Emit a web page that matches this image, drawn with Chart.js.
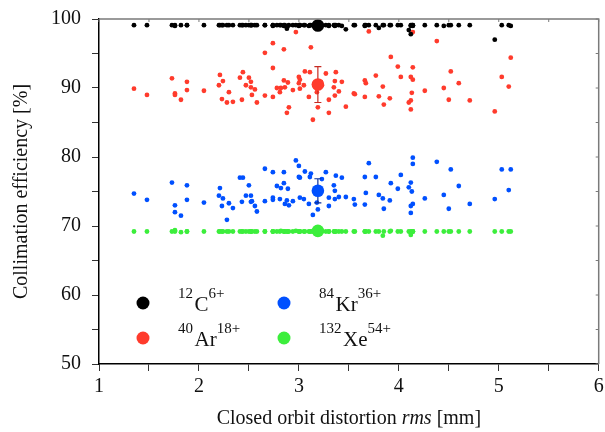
<!DOCTYPE html>
<html>
<head>
<meta charset="utf-8">
<script src="https://cdn.jsdelivr.net/npm/chart.js@4/dist/chart.umd.min.js"></script>
<style>
  html, body { margin: 0; padding: 0; background: #fff; }
</style>
</head>
<body>
<canvas id="collimation-chart" width="605" height="432"></canvas>
<script>
// closed orbit distortion rms of each machine seed [mm], same seeds for every ion
const codRms = [
  1.35, 1.48, 1.73, 1.76, 1.76, 1.82, 1.88, 1.88, 2.05, 2.20,
  2.21, 2.23, 2.24, 2.28, 2.30, 2.34, 2.41, 2.43, 2.44, 2.47,
  2.50, 2.52, 2.52, 2.53, 2.56, 2.58, 2.66, 2.66, 2.74, 2.74,
  2.74, 2.78, 2.81, 2.82, 2.85, 2.85, 2.86, 2.88, 2.89, 2.90,
  2.94, 2.97, 3.00, 3.00, 3.01, 3.01, 3.05, 3.06, 3.10, 3.11,
  3.12, 3.14, 3.18, 3.19, 3.22, 3.23, 3.27, 3.30, 3.30, 3.35,
  3.36, 3.36, 3.37, 3.40, 3.43, 3.47, 3.55, 3.56, 3.66, 3.67,
  3.66, 3.70, 3.77, 3.80, 3.84, 3.85, 3.91, 3.92, 3.99, 4.02,
  4.10, 4.12, 4.12, 4.12, 4.13, 4.14, 4.14, 4.14, 4.26, 4.38,
  4.45, 4.50, 4.52, 4.60, 4.71, 4.96, 5.03, 5.10, 5.12
]

// collimation efficiency per seed [%]
const carbonEff = [
  99.1, 99.1, 99.1, 99.1, 99.0, 99.1, 99.1, 99.1, 99.1, 99.1,
  99.1, 99.1, 99.1, 99.1, 99.1, 99.1, 99.1, 99.1, 99.1, 99.1,
  99.1, 99.1, 99.1, 99.1, 99.1, 99.1, 99.1, 99.1, 99.1, 99.1,
  99.0, 99.1, 99.1, 99.1, 99.0, 99.1, 99.1, 98.6, 99.0, 99.1,
  99.1, 99.1, 99.1, 99.0, 99.1, 99.1, 99.1, 99.1, 99.0, 99.1,
  99.1, 99.1, 99.1, 99.0, 99.1, 99.1, 99.1, 99.0, 99.1, 99.1,
  99.0, 99.1, 99.1, 99.1, 99.0, 98.5, 99.1, 99.1, 99.1, 99.1,
  99.0, 99.1, 99.1, 98.7, 99.1, 99.1, 99.1, 99.1, 99.1, 99.1,
  98.4, 97.8, 99.0, 99.1, 99.1, 99.1, 99.0, 99.1, 99.1, 99.1,
  99.0, 99.1, 99.1, 99.1, 99.1, 97.0, 99.1, 99.1, 99.0
]
const argonEff = [
  89.9, 89.0, 91.4, 89.2, 89.0, 88.3, 90.9, 89.7, 89.6, 90.4,
  91.9, 88.4, 91.0, 87.9, 89.4, 88.0, 91.5, 88.3, 92.3, 90.4,
  91.5, 90.9, 90.1, 89.0, 89.8, 87.9, 95.1, 88.9, 96.5, 92.9,
  88.7, 90.0, 89.4, 90.0, 95.6, 91.1, 90.1, 86.4, 90.8, 87.2,
  89.7, 98.1, 91.6, 90.7, 91.2, 89.9, 90.4, 92.4, 88.7, 92.3,
  95.9, 85.4, 89.4, 87.2, 90.9, 90.4, 92.1, 88.3, 86.4, 90.1,
  91.0, 88.9, 92.3, 89.5, 90.9, 87.3, 89.2, 89.1, 91.1, 90.7,
  88.7, 98.2, 91.8, 88.8, 90.2, 87.6, 88.5, 94.5, 93.1, 91.6,
  87.9, 88.2, 86.9, 91.6, 89.3, 91.2, 93.0, 98.1, 89.6, 96.8,
  90.0, 88.3, 92.4, 90.7, 88.2, 86.6, 91.6, 90.2, 94.4
]
const kryptonEff = [
  74.7, 73.8, 76.3, 73.0, 72.0, 71.5, 75.9, 73.8, 73.4, 74.4,
  75.5, 72.9, 74.0, 70.9, 73.3, 72.6, 77.0, 73.5, 77.0, 74.4,
  75.9, 74.4, 73.5, 73.6, 72.9, 72.1, 78.3, 73.6, 77.8, 74.1,
  73.8, 75.8, 73.9, 75.5, 77.8, 76.2, 73.2, 73.7, 75.4, 73.0,
  73.6, 79.5, 77.1, 78.7, 74.1, 77.0, 73.9, 77.9, 73.2, 77.1,
  77.6, 71.6, 73.4, 72.4, 75.0, 76.8, 77.8, 74.1, 72.9, 75.9,
  75.1, 73.9, 77.3, 74.2, 77.0, 74.2, 73.9, 73.1, 77.1, 74.8,
  73.1, 79.1, 77.1, 74.5, 74.0, 72.5, 73.7, 76.2, 75.4, 77.4,
  75.6, 76.3, 72.9, 71.9, 75.0, 73.2, 79.9, 79.0, 74.0, 79.3,
  74.5, 72.5, 78.2, 75.8, 73.2, 73.9, 78.2, 75.2, 78.2
]
const xenonEff = [
  69.2, 69.2, 69.2, 69.4, 69.2, 69.1, 69.2, 69.2, 69.2, 69.2,
  69.2, 69.2, 69.2, 69.2, 69.2, 69.2, 69.2, 69.2, 69.2, 69.2,
  69.2, 69.2, 69.2, 69.2, 69.2, 69.2, 69.2, 69.2, 69.2, 69.2,
  69.2, 69.2, 69.2, 69.3, 69.2, 69.2, 69.2, 69.2, 69.2, 69.2,
  69.2, 69.3, 69.2, 69.2, 69.2, 69.2, 69.2, 69.2, 69.2, 69.2,
  69.2, 69.2, 69.2, 69.2, 69.2, 69.2, 69.2, 69.2, 69.2, 69.2,
  69.2, 69.2, 69.2, 69.2, 69.2, 69.2, 69.2, 69.2, 69.2, 69.2,
  69.2, 69.2, 69.2, 69.2, 68.6, 69.2, 69.2, 69.3, 69.2, 69.2,
  69.2, 68.7, 69.0, 69.2, 69.2, 69.2, 69.2, 69.2, 69.2, 69.2,
  69.2, 69.2, 69.2, 69.2, 69.2, 69.2, 69.2, 69.2, 69.2
]

// average over all seeds and its spread
const meanCod = 3.19
const meanEff = [99.05, 90.5, 75.1, 69.3]
const meanErr = [0.1, 2.6, 1.75, 0.1]

// legend text pieces
const ionMass = ['12', '40', '84', '132']
const ionSymbol = ['C', 'Ar', 'Kr', 'Xe']
const ionCharge = ['6+', '18+', '36+', '54+']

const ionColors = ['#000000', '#ff3b2c', '#0050ff', '#3cee3c']
const barColors = ['#000000', '#c62a22', '#0a2f9a', '#22a022']
const serif = '"Liberation Serif", "Times New Roman", serif'

const series = [carbonEff, argonEff, kryptonEff, xenonEff]

const toPoints = (ys) => ys.map((y, i) => ({ x: codRms[i], y }))

// dataset 0 is drawn last, so the mean markers go first
const datasets = [
  ...meanEff.map((y, i) => ({
    label: ionSymbol[i] + ' mean',
    data: [{ x: meanCod, y }],
    backgroundColor: ionColors[i],
    borderWidth: 0,
    pointRadius: 6.3,
    pointHoverRadius: 6.3
  })),
  ...series.map((ys, i) => ({
    label: ionSymbol[i],
    data: toPoints(ys),
    backgroundColor: ionColors[i],
    borderWidth: 0,
    pointRadius: 2.4,
    pointHoverRadius: 2.4
  }))
]

// error bars under the mean markers
const errorBars = {
  id: 'errorBars',
  beforeDatasetDraw (chart, args) {
    if (args.index !== meanEff.length - 1) return
    const { ctx, scales: { x, y } } = chart
    ctx.save()
    ctx.lineWidth = 1.2
    meanEff.forEach((m, i) => {
      const px = x.getPixelForValue(meanCod)
      const top = y.getPixelForValue(m + meanErr[i])
      const bot = y.getPixelForValue(m - meanErr[i])
      ctx.strokeStyle = barColors[i]
      ctx.beginPath()
      ctx.moveTo(px, top); ctx.lineTo(px, bot)
      ctx.moveTo(px - 3.5, top); ctx.lineTo(px + 3.5, top)
      ctx.moveTo(px - 3.5, bot); ctx.lineTo(px + 3.5, bot)
      ctx.stroke()
    })
    ctx.restore()
  }
}

// grey top / right frame with small inward ticks
const frame = {
  id: 'frame',
  afterDraw (chart) {
    const { ctx, chartArea: a, scales: { x, y } } = chart
    ctx.save()
    ctx.strokeStyle = '#7a7a7a'
    ctx.lineWidth = 1.5
    ctx.beginPath()
    ctx.moveTo(a.left, a.top); ctx.lineTo(a.right, a.top); ctx.lineTo(a.right, a.bottom)
    ctx.stroke()
    ctx.lineWidth = 1
    ctx.beginPath()
    x.ticks.forEach(t => {
      const px = x.getPixelForValue(t.value)
      ctx.moveTo(px, a.top); ctx.lineTo(px, a.top + 3)
    })
    y.ticks.forEach(t => {
      const py = y.getPixelForValue(t.value)
      ctx.moveTo(a.right, py); ctx.lineTo(a.right - 3, py)
    })
    ctx.stroke()
    ctx.restore()
  }
}

// legend with isotope mass and charge state as superscripts
const ionLegend = {
  id: 'ionLegend',
  afterDraw (chart) {
    const { ctx, chartArea: a } = chart
    const cols = [a.left + 44, a.left + 185]
    const rows = [a.bottom - 61, a.bottom - 26]
    ctx.save()
    ionSymbol.forEach((sym, i) => {
      const cx = cols[i < 2 ? 0 : 1]
      const cy = rows[i % 2]
      ctx.fillStyle = ionColors[i]
      ctx.beginPath()
      ctx.arc(cx, cy, 6.5, 0, Math.PI * 2)
      ctx.fill()

      ctx.fillStyle = '#111'
      ctx.textBaseline = 'alphabetic'
      ctx.textAlign = 'left'
      let tx = cx + 35
      ctx.font = '15px ' + serif
      ctx.fillText(ionMass[i], tx, cy - 5)
      tx += ctx.measureText(ionMass[i]).width + 1.5
      ctx.font = '21px ' + serif
      ctx.fillText(sym, tx, cy + 8)
      tx += ctx.measureText(sym).width
      ctx.font = '15px ' + serif
      ctx.fillText(ionCharge[i], tx, cy - 5)
    })
    ctx.restore()
  }
}

// x axis title, with "rms" in italics
const xTitle = {
  id: 'xTitle',
  afterDraw (chart) {
    const { ctx, chartArea: a } = chart
    const parts = [['Closed orbit distortion ', ''], ['rms', 'italic '], [' [mm]', '']]
    ctx.save()
    ctx.fillStyle = '#111'
    ctx.textBaseline = 'alphabetic'
    ctx.textAlign = 'left'
    let total = 0
    parts.forEach(([t, s]) => { ctx.font = s + '20px ' + serif; total += ctx.measureText(t).width })
    let tx = (a.left + a.right) / 2 - total / 2
    parts.forEach(([t, s]) => {
      ctx.font = s + '20px ' + serif
      ctx.fillText(t, tx, 424)
      tx += ctx.measureText(t).width
    })
    ctx.restore()
  }
}

const ctx = document.getElementById('collimation-chart').getContext('2d')
new Chart(ctx, {
  type: 'scatter',
  data: { datasets },
  options: {
    responsive: false,
    animation: false,
    events: [],
    layout: { padding: { top: 19, right: 4, left: 0, bottom: 0 } },
    plugins: {
      legend: { display: false },
      tooltip: { enabled: false }
    },
    scales: {
      x: {
        type: 'linear',
        min: 1,
        max: 6,
        ticks: {
          stepSize: 0.5,
          autoSkip: false,
          maxRotation: 0,
          padding: 4,
          color: '#111',
          font: { family: serif, size: 20 },
          callback: (v) => Number.isInteger(v) ? v : ''
        },
        grid: { drawOnChartArea: false, tickLength: 7, tickColor: '#333', tickWidth: 1 },
        border: { display: true, color: '#000', width: 1.5 },
        afterFit: (scale) => {
          scale.height = 68
          scale.paddingLeft = 0
          scale.paddingRight = 0
        }
      },
      y: {
        type: 'linear',
        min: 50,
        max: 100,
        ticks: {
          stepSize: 5,
          autoSkip: false,
          padding: 11,
          color: '#111',
          font: { family: serif, size: 20 },
          callback: (v) => v % 10 === 0 ? v : ''
        },
        grid: { drawOnChartArea: false, tickLength: 7, tickColor: '#333', tickWidth: 1 },
        border: { display: true, color: '#000', width: 1.5 },
        title: {
          display: true,
          text: 'Collimation efficiency [%]',
          color: '#111',
          font: { family: serif, size: 20 },
          padding: { top: 10, bottom: 0 }
        },
        afterFit: (scale) => {
          scale.width = 99
          scale.paddingTop = 0
          scale.paddingBottom = 0
        }
      }
    }
  },
  plugins: [errorBars, frame, ionLegend, xTitle]
})
</script>
</body>
</html>
